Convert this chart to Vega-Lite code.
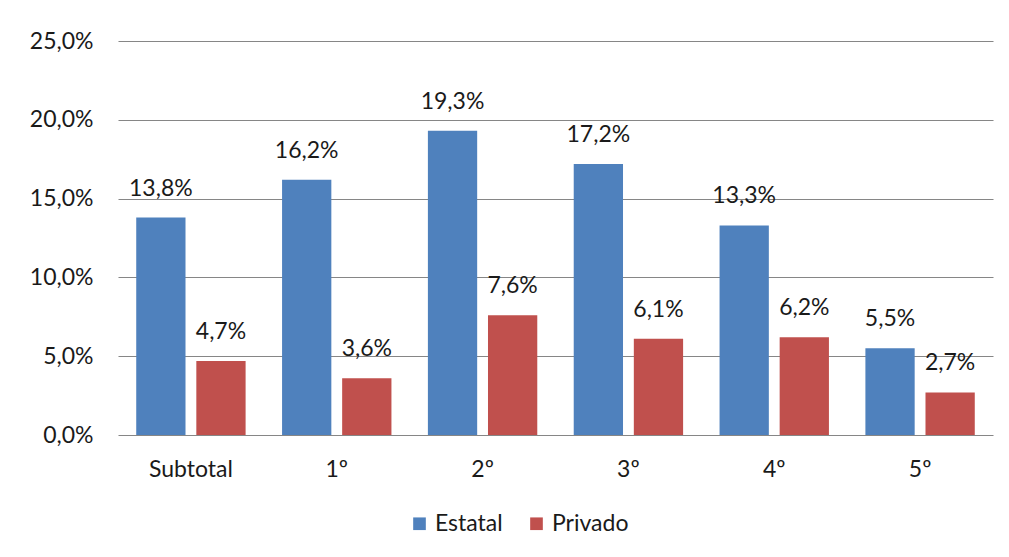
{
  "$schema": "https://vega.github.io/schema/vega-lite/v6.json",
  "width": 875,
  "height": 394,
  "autosize": {"type": "none"},
  "padding": {"left": 118, "top": 41, "right": 16, "bottom": 122},
  "background": "white",
  "config": {
    "locale": {"number": {"decimal": ",", "thousands": ".", "grouping": [3], "currency": ["", " €"]}},
    "view": {"stroke": null},
    "font": "Lato",
    "text": {"font": "Lato"}
  },
  "data": {
    "values": [
      {"grado": "Subtotal", "sector": "Estatal", "valor": 0.138},
      {"grado": "Subtotal", "sector": "Privado", "valor": 0.047},
      {"grado": "1º", "sector": "Estatal", "valor": 0.162},
      {"grado": "1º", "sector": "Privado", "valor": 0.036},
      {"grado": "2º", "sector": "Estatal", "valor": 0.193},
      {"grado": "2º", "sector": "Privado", "valor": 0.076},
      {"grado": "3º", "sector": "Estatal", "valor": 0.172},
      {"grado": "3º", "sector": "Privado", "valor": 0.061},
      {"grado": "4º", "sector": "Estatal", "valor": 0.133},
      {"grado": "4º", "sector": "Privado", "valor": 0.062},
      {"grado": "5º", "sector": "Estatal", "valor": 0.055},
      {"grado": "5º", "sector": "Privado", "valor": 0.027}
    ]
  },
  "encoding": {
    "x": {
      "field": "grado",
      "type": "nominal",
      "sort": ["Subtotal", "1º", "2º", "3º", "4º", "5º"],
      "scale": {"paddingInner": 0.25, "paddingOuter": 0.125},
      "axis": {
        "title": null,
        "labelAngle": 0,
        "ticks": false,
        "domain": false,
        "labelFontSize": 23,
        "labelColor": "#1a1a1a",
        "labelPadding": 23,
        "labelFont": "Lato"
      }
    },
    "xOffset": {
      "field": "sector",
      "type": "nominal",
      "sort": ["Estatal", "Privado"],
      "scale": {"paddingInner": 0.18, "paddingOuter": 0}
    },
    "y": {
      "field": "valor",
      "type": "quantitative",
      "scale": {"domain": [0, 0.25], "nice": false},
      "axis": {
        "title": null,
        "format": ".1%",
        "values": [0, 0.05, 0.1, 0.15, 0.2, 0.25],
        "ticks": false,
        "domain": false,
        "gridColor": "#868686",
        "gridWidth": 1.2,
        "labelFontSize": 23,
        "labelColor": "#1a1a1a",
        "labelPadding": 25,
        "labelFont": "Lato"
      }
    }
  },
  "layer": [
    {
      "mark": {"type": "bar"},
      "encoding": {
        "color": {
          "field": "sector",
          "type": "nominal",
          "sort": ["Estatal", "Privado"],
          "scale": {"domain": ["Estatal", "Privado"], "range": ["#4F81BD", "#C0504D"]},
          "legend": {
            "title": null,
            "orient": "none",
            "legendX": 290,
            "legendY": 471,
            "direction": "horizontal",
            "symbolType": "square",
            "symbolSize": 160,
            "symbolStrokeWidth": 0,
            "labelFontSize": 23,
            "labelColor": "#1a1a1a",
            "labelFont": "Lato",
            "columnPadding": 22
          }
        }
      }
    },
    {
      "mark": {"type": "text", "baseline": "bottom", "dy": -17, "fontSize": 23, "color": "#1a1a1a"},
      "encoding": {
        "text": {"field": "valor", "type": "quantitative", "format": ".1%"}
      }
    }
  ]
}
